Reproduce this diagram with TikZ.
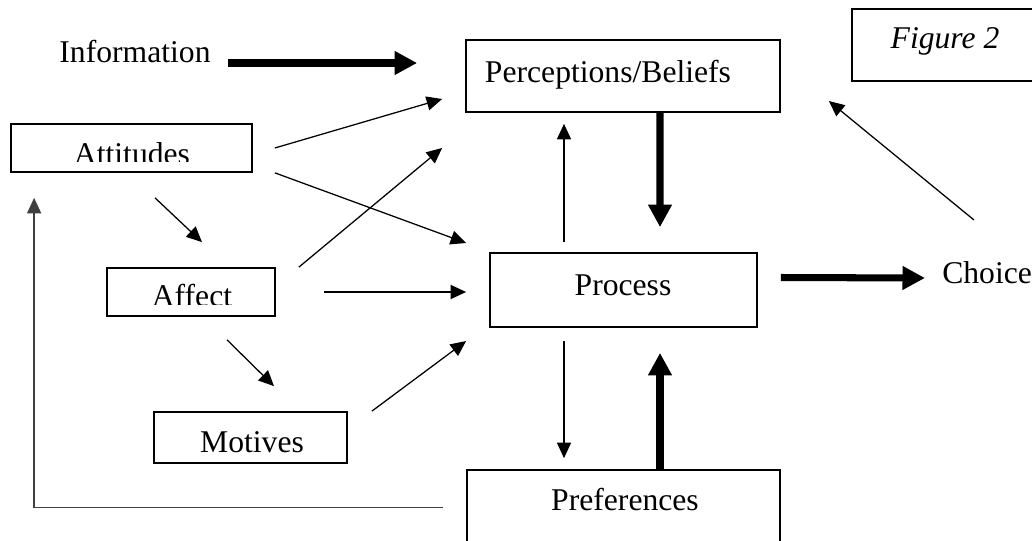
\documentclass[tikz,border=0pt]{standalone}
\usepackage{fontspec}
\setmainfont{Liberation Serif}
\usetikzlibrary{arrows.meta, calc, positioning}

\tikzset{
  box/.style={draw, line width=1.2pt, inner sep=0pt},
  lbl/.style={anchor=base, inner sep=0pt, font=\fontsize{22.5}{27}\selectfont},
  slim/.style={line width=0.9pt, -{Triangle[length=11pt, width=10pt]}},
  heavy/.style={line width=5pt, -{Triangle[length=16pt, width=16pt]}}
}

\begin{document}
\begin{tikzpicture}[x=0.025cm, y=-0.025cm]
	\useasboundingbox (0,0) rectangle (1032,540);
	% boxes
	\node[box, minimum width=7.85cm, minimum height=1.8cm] (perc) at (623,76) {};
	\node[box, minimum width=4.9cm, minimum height=1.8cm] (fig) at (950,45) {};
	\node[box, minimum width=6.025cm, minimum height=1.2cm] (att) at (131.5,148) {};
	\node[box, minimum width=4.2cm, minimum height=1.2cm] (aff) at (191,292) {};
	\node[box, minimum width=4.825cm, minimum height=1.275cm] (mot) at (250.5,437.5) {};
	\node[box, minimum width=6.675cm, minimum height=1.85cm] (proc) at (623.5,290) {};
	\node[box, minimum width=7.825cm, minimum height=1.875cm] (pref) at (623.5,507.5) {};
	% texts
	\node[lbl] (info) at (135,62) {Information};
	\node[lbl] (perc-t) at (608,82) {Perceptions/Beliefs};
	\node[lbl, font=\fontsize{22.5}{27}\selectfont\itshape] (fig-t) at (945,48) {Figure 2};
	\begin{scope}
		\clip (att.north west) rectangle ($(att.south east)+(0,-11)$);
		\node[lbl] (att-t) at (132,164) {Attitudes};
	\end{scope}
	\begin{scope}
		\clip (aff.north west) rectangle ($(aff.south east)+(0,-12)$);
		\node[lbl] (aff-t) at (192,306) {Affect};
	\end{scope}
	\node[lbl] (mot-t) at (252,452) {Motives};
	\node[lbl] (proc-t) at (623,295) {Process};
	\node[lbl] (pref-t) at (625,510) {Preferences};
	\node[lbl, anchor=base west] (choice) at (942,283) {Choice};
	% arrows
	\draw[heavy] ($(info.base east)+(17,1)$) -- ($(perc.west)+(-48,-13)$);
	\draw[slim] ($(att.east)+(22,0)$) -- ($(perc.west)+(-23,23)$);
	\draw[slim] ($(att.south east)+(22,0)$) -- ($(proc.west)+(-23,-47)$);
	\draw[slim] ($(att.south)+(23.5,25)$) -- ($(aff.north)+(11,-25)$);
	\draw[slim] ($(aff.north east)+(23,0)$) -- ($(perc.west)+(-23,72)$);
	\draw[slim] ($(aff.east)+(48,0)$) -- ($(proc.west)+(-23,2)$);
	\draw[slim] ($(aff.south)+(36,23)$) -- ($(mot.north)+(23.5,-25)$);
	\draw[slim] ($(mot.north east)+(24,0)$) -- ($(proc.west)+(-23,51)$);
	\draw[slim] ($(proc.north)+(-59.5,-10)$) -- ($(perc.south)+(-59,11)$);
	\draw[heavy] ($(perc.south)+(37,0)$) -- ($(proc.north)+(36.5,-25)$);
	\draw[heavy] ($(proc.east)+(23,-12.5)$) -- ($(choice.base west)+(-17,-5)$);
	\draw[slim] ($(choice.base west)+(32,-63)$) -- ($(perc.east)+(48,25)$);
	\draw[slim] ($(proc.south)+(-59.5,13)$) -- ($(pref.north)+(-59.5,-11)$);
	\draw[heavy] ($(pref.north)+(36.5,0)$) -- ($(proc.south)+(36.5,25)$);
	\draw[slim, draw=black!75] ($(pref.north)+(-180.5,38)$) -| ($(att.south west)+(24,25)$);
\end{tikzpicture}
\end{document}
